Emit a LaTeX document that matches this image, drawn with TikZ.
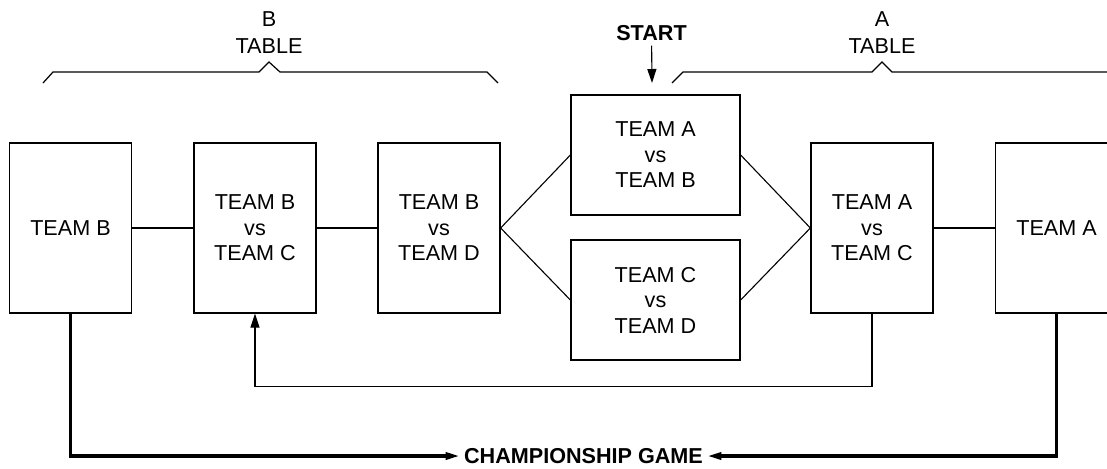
\documentclass[tikz,border=0pt]{standalone}
\usepackage{fontspec}
\setmainfont{Liberation Sans}
\usepackage{tikz}
\usetikzlibrary{arrows.meta,positioning,calc}
\tikzset{
  tbox/.style={draw, line width=0.65pt, align=center, inner sep=0pt,
               font=\fontsize{10.8}{12.75}\selectfont},
  tall/.style={tbox, minimum width=61pt, minimum height=85pt},
  game/.style={tbox, minimum width=84.5pt, minimum height=60pt},
  lbl/.style={align=center, inner sep=2pt, font=\fontsize{10.8}{13.5}\selectfont},
  bold/.style={inner sep=2pt, font=\fontsize{10.8}{12}\selectfont\bfseries},
  thin/.style={line width=0.55pt},
  mid/.style={line width=1pt},
  fat/.style={line width=1.6pt},
  brace/.style={line width=0.6pt, line join=miter},
  ar/.style={-{Triangle[length=7pt, width=4.5pt]}, line width=0.55pt},
  far/.style={-{Triangle[length=7pt, width=3.5pt]}, line width=1.6pt},
}

\begin{document}
\begin{tikzpicture}[x=0.5pt, y=-0.5pt]
  \useasboundingbox (0,0) rectangle (1107,468);
  % boxes
  \node[tall] (tb) at (70.5,228) {TEAM B};
  \node[tall] (bc) at (255,228) {TEAM B\\vs\\TEAM C};
  \node[tall] (bd) at (439,228) {TEAM B\\vs\\TEAM D};
  \node[game] (ab) at (655.5,155) {TEAM A\\vs\\TEAM B};
  \node[game] (cd) at (655.5,300) {TEAM C\\vs\\TEAM D};
  \node[tall] (ac) at (872,228) {TEAM A\\vs\\TEAM C};
  \node[tall] (ta) at (1056.5,228) {TEAM A};
  % labels
  \node[lbl] (bt) at (269,33) {B\\TABLE};
  \node[lbl] (at) at (882,33) {A\\TABLE};
  \node[bold] (start) at (651.5,33.5) {START};
  \coordinate (go) at (652,83);
  \node[bold] (champ) at (583.5,456) {CHAMPIONSHIP GAME};
  % braces
  \draw[brace] (43,83) -- (53,72) -- (259,72) -- (269,62) -- (280,72)
    -- (487,72) -- (498,83);
  \draw[brace] (672,83) -- (683,72) -- (872,72) -- (882,62) -- (892,72)
    -- (1110,72);
  % connectors
  \draw[ar] (start) -- (go);
  \draw[thin] (tb) -- (bc);
  \draw[mid] (bc) -- (bd);
  \draw[thin] (bd.east) -- (ab.west);
  \draw[thin] (bd.east) -- (cd.west);
  \draw[thin] (ab.east) -- (ac.west);
  \draw[thin] (cd.east) -- (ac.west);
  \draw[mid] (ac) -- (ta);
  \draw[ar] (ac.south) -- ++(0,73) -| (bc.south);
  \draw[far] (tb.south) |- (champ.west);
  \draw[far] (ta.south) |- (champ.east);
\end{tikzpicture}
\end{document}
